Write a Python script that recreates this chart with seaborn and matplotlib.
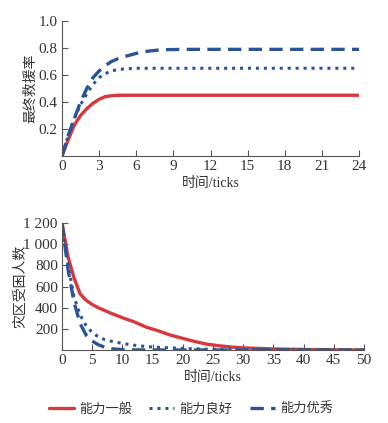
import matplotlib
matplotlib.use("Agg")
import matplotlib.pyplot as plt
import seaborn as sns
import pandas as pd

# top: final rescue rate
t_top = [0, 0.5, 1, 1.5, 2, 2.5, 3, 3.5, 4, 4.5, 5, 6, 7, 8, 10, 14, 18, 24]
rate_normal = [0, 0.12, 0.23, 0.30, 0.35, 0.39, 0.42, 0.44, 0.446, 0.45, 0.45, 0.45, 0.45, 0.45, 0.45, 0.45, 0.45, 0.45]
rate_good = [0, 0.15, 0.28, 0.38, 0.46, 0.53, 0.58, 0.61, 0.63, 0.64, 0.645, 0.65, 0.65, 0.65, 0.65, 0.65, 0.65, 0.65]
rate_excellent = [0, 0.15, 0.28, 0.40, 0.50, 0.58, 0.63, 0.67, 0.70, 0.72, 0.735, 0.76, 0.777, 0.787, 0.79, 0.79, 0.79, 0.79]

# bottom: trapped people in disaster area
t_bot = [0, 1, 2, 3, 4, 5, 6, 7, 8, 10, 12, 14, 16, 18, 20, 22, 24, 26, 28, 30, 35, 40, 45, 50]
trapped_normal = [1200, 880, 680, 530, 470, 430, 400, 375, 350, 305, 265, 215, 180, 140, 110, 80, 55, 40, 28, 20, 10, 5, 2, 0]
trapped_good = [1200, 800, 500, 330, 230, 165, 125, 100, 85, 62, 45, 32, 25, 20, 15, 11, 8, 6, 5, 4, 2, 1, 0, 0]
trapped_excellent = [1200, 760, 450, 250, 140, 85, 50, 28, 12, 4, 1, 0, 0, 0, 0, 0, 0, 0, 0, 0, 0, 0, 0, 0]

labels = ["能力一般", "能力良好", "能力优秀"]
red = "#d9383a"
blue = "#2b5497"

sns.set_style("ticks")
plt.rcParams["font.family"] = ["Liberation Serif", "Noto Sans CJK SC"]
plt.rcParams["font.size"] = 10

fig = plt.figure(figsize=(3.88, 4.23), dpi=100)
ax1 = fig.add_axes([62 / 388, 1 - 156 / 423, 297 / 388, 135 / 423])
ax2 = fig.add_axes([62 / 388, 1 - 350 / 423, 302 / 388, 127 / 423])

styles = [dict(color=red, linestyle="-", linewidth=2.4),
          dict(color=blue, linestyle=(0, (1, 1.6)), linewidth=2.2),
          dict(color=blue, linestyle=(0, (4, 2.2)), linewidth=2.4)]

for ys, st, lab in zip([rate_normal, rate_good, rate_excellent], styles, labels):
    sns.lineplot(x=t_top, y=ys, ax=ax1, label=lab, **st)
for ys, st, lab in zip([trapped_normal, trapped_good, trapped_excellent], styles, labels):
    sns.lineplot(x=t_bot, y=ys, ax=ax2, label=lab, **st)

ax1.set_xlim(0, 24)
ax1.set_ylim(0, 1.0)
ax1.set_xticks(range(0, 25, 3))
ax1.set_yticks([0.2, 0.4, 0.6, 0.8, 1.0])
ax1.set_yticklabels(["0.2", "0.4", "0.6", "0.8", "1.0"])
ax1.set_xlabel("时间/ticks", labelpad=3, color="#333333")
ax1.set_ylabel("最终救援率", color="#333333")
ax1.yaxis.set_label_coords(-0.085, 0.5)

ax2.set_xlim(0, 50)
ax2.set_ylim(0, 1200)
ax2.set_xticks(range(0, 51, 5))
ax2.set_yticks([200, 400, 600, 800, 1000, 1200])
ax2.set_yticklabels(["200", "400", "600", "800", "1 000", "1 200"])
ax2.set_xlabel("时间/ticks", labelpad=3, color="#333333")
ax2.set_ylabel("灾区受困人数", color="#333333")
ax2.yaxis.set_label_coords(-0.116, 0.5)

for ax in (ax1, ax2):
    sns.despine(ax=ax)
    ax.tick_params(direction="in", length=4, width=0.8, pad=3, colors="#555555",
                   labelcolor="#333333", labelsize=11)
    for s in ("left", "bottom"):
        ax.spines[s].set_color("#555555")
        ax.spines[s].set_linewidth(0.8)
    ax.get_legend().remove()

handles, labs = ax2.get_legend_handles_labels()
fig.legend(handles, labs, loc="center", bbox_to_anchor=(191 / 388, 1 - 409 / 423),
           ncol=3, frameon=False, handlelength=1.9, columnspacing=1.3, handletextpad=0.4,
           fontsize=9.5, labelcolor="#333333")

fig.savefig("out.png", dpi=100)
